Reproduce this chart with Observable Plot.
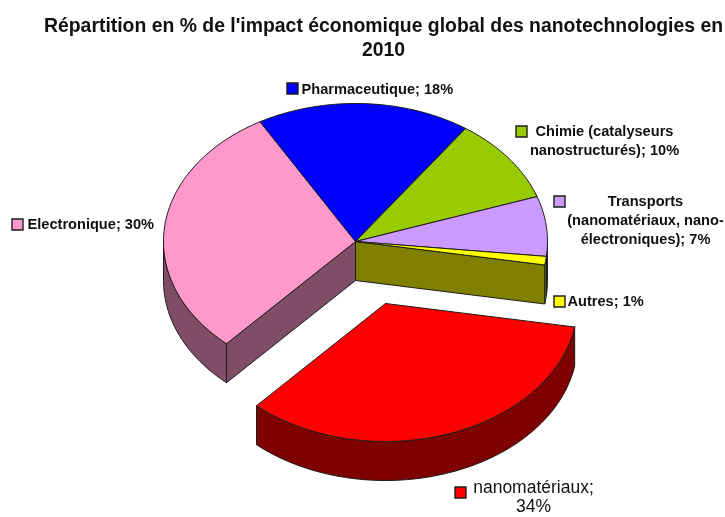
<!DOCTYPE html>
<html>
<head>
<meta charset="utf-8">
<script src="https://cdn.jsdelivr.net/npm/d3@7"></script>
<script src="https://cdn.jsdelivr.net/npm/@observablehq/plot@0.6"></script>
<style>
html,body{margin:0;padding:0;background:#fff;overflow:hidden}
svg{display:block;filter:blur(0.35px)}
</style>
</head>
<body>
<div id="chart"></div>
<script>
// Data, clockwise from the first slice (nanomatériaux)
const categories = ["nanomatériaux","Electronique","Pharmaceutique","Chimie","Transports","Autres"];
const shares = [34,30,18,10,7,1];
const topColors = ["#ff0000","#ff99cc","#0000ff","#99cc00","#cc99ff","#ffff00"];
const sideColors = ["#7f0000","#804d66","#00007f","#4d6600","#664d80","#808000"];
const exploded = ["nanomatériaux"];
const legendLabels = [
  "nanomatériaux;\n34%",
  "Electronique; 30%",
  "Pharmaceutique; 18%",
  "Chimie (catalyseurs\nnanostructurés); 10%",
  "Transports\n(nanomatériaux, nano-\nélectroniques); 7%",
  "Autres; 1%"
];
const titleText = "Répartition en % de l'impact économique global des nanotechnologies en\n2010";

// Projection of the tilted pie (layout in page pixels)
const W = 725, H = 517;
const cx = 355, cy = 241, rx = 192, ry = 138, depth = 39;
const explodeDx = 30, explodeDy = 62;
const firstAngle = 99.8;

const rad = d => d * Math.PI / 180;
const total = d3.sum(shares);
let acc = firstAngle;
const slices = categories.map((name, i) => {
  const a0 = acc; acc += shares[i] / total * 360;
  const off = exploded.includes(name);
  return {name, a0, a1: acc, topFill: topColors[i], side: sideColors[i],
          ox: cx + (off ? explodeDx : 0), oy: cy + (off ? explodeDy : 0), off};
});
const rim = (s, a, dz = 0) => ({x: s.ox + rx * Math.sin(rad(a)), y: s.oy - ry * Math.cos(rad(a)) + dz});
const arc = (s, a0, a1, dz = 0) => {
  const n = Math.max(2, Math.ceil(Math.abs(a1 - a0)));
  return d3.range(n + 1).map(k => rim(s, a0 + (a1 - a0) * k / n, dz));
};
const closed = pts => [...pts, pts[0]];
const piece = (pts, fill) => Plot.line(closed(pts), {x: "x", y: "y", fill, stroke: "#1c1c1c", strokeWidth: 1, strokeLinejoin: "round"});

function wall(s) {
  // Visible part of the outer wall: the front half of the ellipse
  // (angles are unwrapped, so also test the range one turn further on)
  return [0, 360].map(t => [Math.max(s.a0 - t, 90), Math.min(s.a1 - t, 270)])
    .filter(([a, b]) => b > a)
    .map(([a, b]) => piece([...arc(s, a, b), ...arc(s, b, a, depth)], s.side));
}
function face(s, a) {
  const apex = {x: s.ox, y: s.oy}, o = rim(s, a);
  return piece([apex, o, {x: o.x, y: o.y + depth}, {x: apex.x, y: apex.y + depth}], s.side);
}
const surface = s => piece([{x: s.ox, y: s.oy}, ...arc(s, s.a0, s.a1)], s.topFill);

const main = slices.filter(s => !s.off), out = slices.filter(s => s.off);
const pieMarks = [
  ...main.flatMap(wall),
  // cut faces opened by the exploded slice
  ...out.flatMap(s => [face(main[main.length - 1], s.a0), face(main[0], s.a1)]),
  ...main.map(surface),
  ...out.flatMap(wall),
  ...out.map(surface)
];

// Legend keys and labels
const keyX = [460, 17, 292, 521, 559, 559];
const keyY = [492, 224, 88, 131, 201, 301];
const labX = [533, 27, 301, 604, 645, 567];
const labY = [489, 225, 90, 132, 202, 302];
const labAnchor = ["middle","start","start","middle","middle","start"];
const labLead = [18.5, 17, 17, 19, 19, 17];
const labSize = [17.5, 14.6, 14.6, 14.6, 14.6, 14.6];
const labWeight = ["normal","bold","bold","bold","bold","bold"];

const labelMarks = categories.map((_, i) => Plot.text([legendLabels[i]], {
  x: () => labX[i], y: () => labY[i], text: d => d,
  textAnchor: labAnchor[i], lineAnchor: "top", dy: -labLead[i] / 2,
  lineHeight: labLead[i] / labSize[i], fontSize: labSize[i], fontWeight: labWeight[i], fill: "#111"
}));
const keyMarks = categories.map((_, i) => Plot.dot([i], {
  x: () => keyX[i], y: () => keyY[i], symbol: "square", r: 6.2,
  fill: topColors[i], stroke: "#1c1c1c", strokeWidth: 1.4
}));

const chart = Plot.plot({
  width: W, height: H,
  margin: 0,
  x: {domain: [0, W], range: [0, W], axis: null},
  y: {domain: [0, H], range: [0, H], axis: null},
  style: {fontFamily: "'Liberation Sans', Arial, sans-serif", background: "#fff"},
  marks: [
    ...pieMarks,
    ...keyMarks,
    ...labelMarks,
    Plot.text([titleText], {x: () => 383, y: () => 14, text: d => d, lineAnchor: "top",
      lineHeight: 24 / 19.4, fontSize: 19.4, fontWeight: "bold", fill: "#111"})
  ]
});
document.getElementById("chart").append(chart);
</script>
</body>
</html>
